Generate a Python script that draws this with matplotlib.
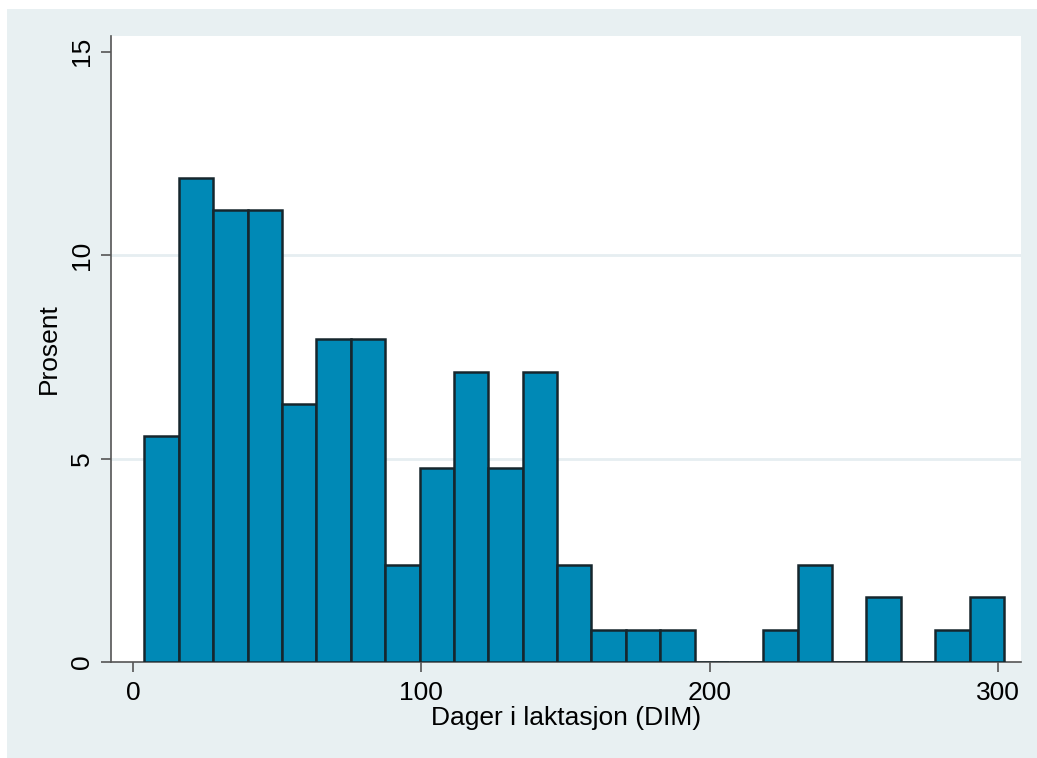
import numpy as np
import matplotlib.pyplot as plt
from matplotlib.patches import Rectangle

plt.rcParams['font.family'] = ['Liberation Sans', 'DejaVu Sans']

# Histogram of days in milk: 25 bins, height in percent of cows
bin_start = 4.0
bin_width = 11.92
percent = [5.56, 11.90, 11.11, 11.11, 6.35, 7.94, 7.94, 2.38, 4.76, 7.14,
           4.76, 7.14, 2.38, 0.79, 0.79, 0.79, 0.0, 0.0, 0.79, 2.38,
           0.0, 1.59, 0.0, 0.79, 1.59]
x_ticks = [0, 100, 200, 300]
y_ticks = [0, 5, 10, 15]

W, H = 1037, 758
fig = plt.figure(figsize=(W / 100, H / 100), dpi=100)
fig.patch.set_facecolor('white')

# light graph region behind the plot
fig.patches.append(Rectangle((7 / W, 0), 1 - 7 / W, 1 - 9 / H,
                             transform=fig.transFigure, facecolor='#e8f0f2',
                             edgecolor='none', zorder=-10))

ax = fig.add_axes([111 / W, (H - 662) / H, (1021 - 111) / W, (662 - 36) / H])
ax.set_facecolor('white')

edges = bin_start + bin_width * np.arange(len(percent))
ax.bar(edges, percent, width=bin_width, align='edge', color='#0089b6',
       edgecolor='#16262d', linewidth=1.8, zorder=3)

ax.set_xlim(-7.6, 307.9)
ax.set_ylim(0, 15.39)
ax.set_xticks(x_ticks)
ax.set_yticks(y_ticks)
ax.tick_params(axis='y', labelrotation=90, length=7.5, width=1.2,
               color='#555555', labelsize=19, pad=5)
ax.tick_params(axis='x', length=7.5, width=1.2, color='#555555',
               labelsize=19, pad=6)
for lab in ax.get_yticklabels():
    lab.set_va('center')

for y in [5, 10]:
    ax.axhline(y, color='#e6eef1', linewidth=2, zorder=1)

for s in ['top', 'right']:
    ax.spines[s].set_visible(False)
for s in ['left', 'bottom']:
    ax.spines[s].set_color('#555555')
    ax.spines[s].set_linewidth(1.2)

ax.set_xlabel('Dager i laktasjon (DIM)', fontsize=19, labelpad=1)
ax.set_ylabel('Prosent', fontsize=19, labelpad=6)

fig.savefig('out.png', dpi=100)
